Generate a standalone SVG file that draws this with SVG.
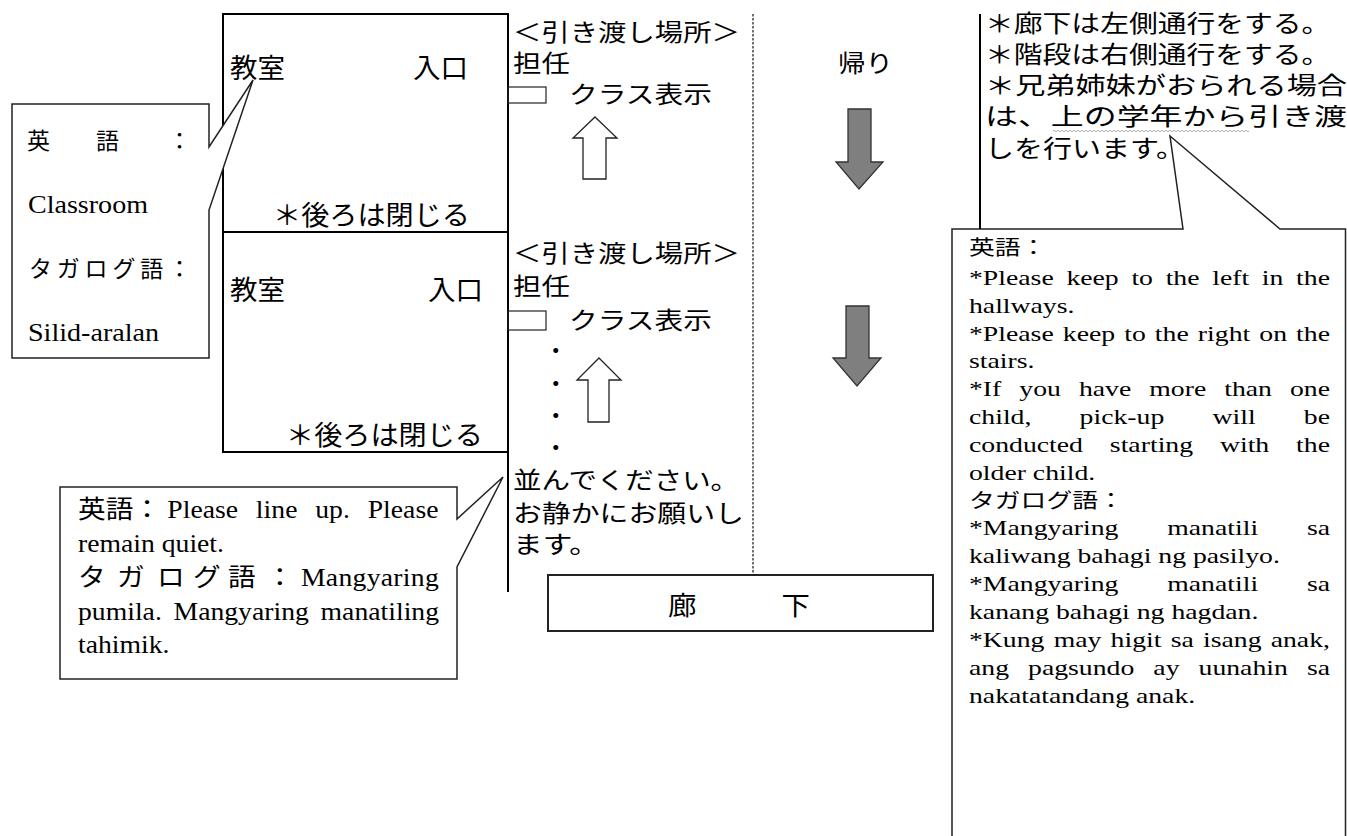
<svg xmlns="http://www.w3.org/2000/svg" width="1347" height="836" viewBox="0 0 1347 836">
<style>
.g{font-family:"Noto Sans CJK JP",sans-serif;fill:#000}
.s{font-family:"Liberation Serif","Noto Sans CJK JP",serif;fill:#000}
.box{fill:none;stroke:#000;stroke-width:2}
.call{fill:#fff;stroke:#222;stroke-width:1.5;stroke-linejoin:miter}
.up{fill:#fff;stroke:#222;stroke-width:1.3}
.down{fill:#7f7f7f;stroke:#333;stroke-width:1.3}
</style>
<rect width="1347" height="836" fill="#fff"/>

<g id="classroom1">
<path class="box" d="M223,14 H508 V232 H223 Z"/>
<text class="g" x="230" y="78" font-size="27" textLength="55" lengthAdjust="spacingAndGlyphs">教室</text>
<text class="g" x="413" y="78" font-size="27" textLength="55" lengthAdjust="spacingAndGlyphs">入口</text>
<text class="g" x="273" y="225" font-size="27" textLength="197" lengthAdjust="spacingAndGlyphs">＊後ろは閉じる</text>
</g>

<g id="classroom2">
<path class="box" d="M223,232 H508 V452 H223 Z"/>
<path class="box" d="M508,452 V592"/>
<text class="g" x="230" y="300" font-size="27" textLength="55" lengthAdjust="spacingAndGlyphs">教室</text>
<text class="g" x="428" y="300" font-size="27" textLength="55" lengthAdjust="spacingAndGlyphs">入口</text>
<text class="g" x="286" y="445" font-size="27" textLength="197" lengthAdjust="spacingAndGlyphs">＊後ろは閉じる</text>
</g>

<g id="callout-classroom">
<path class="call" stroke="#000" d="M12,104 H209 V147 L253,80 L209,210 V358 H12 Z"/>
<text class="s" y="148.5" font-size="23"><tspan x="27">英</tspan><tspan x="96">語</tspan><tspan x="168">：</tspan></text>
<text class="s" x="28" y="213" font-size="25" textLength="120" lengthAdjust="spacingAndGlyphs">Classroom</text>
<text class="s" x="29" y="276.5" font-size="23" textLength="162" lengthAdjust="spacing">タガログ語：</text>
<text class="s" x="28" y="341" font-size="26" textLength="131" lengthAdjust="spacingAndGlyphs">Silid-aralan</text>
</g>

<g id="handover1">
<rect x="508" y="87" width="38" height="16" fill="none" stroke="#222" stroke-width="1.2"/>
<text class="g" x="513" y="41" font-size="23.5" textLength="227" lengthAdjust="spacingAndGlyphs">＜引き渡し場所＞</text>
<text class="g" x="513" y="71.5" font-size="23.5" textLength="57" lengthAdjust="spacingAndGlyphs">担任</text>
<text class="g" x="569" y="103" font-size="23.5" textLength="143" lengthAdjust="spacingAndGlyphs">クラス表示</text>
</g>

<g id="handover2">
<rect x="508" y="311" width="38" height="19" fill="none" stroke="#222" stroke-width="1.2"/>
<text class="g" x="513" y="262" font-size="23.5" textLength="227" lengthAdjust="spacingAndGlyphs">＜引き渡し場所＞</text>
<text class="g" x="513" y="294.5" font-size="23.5" textLength="57" lengthAdjust="spacingAndGlyphs">担任</text>
<text class="g" x="569" y="328.5" font-size="23.5" textLength="143" lengthAdjust="spacingAndGlyphs">クラス表示</text>
<text class="g" x="544" y="359" font-size="23.5">・</text>
<text class="g" x="544" y="392" font-size="23.5">・</text>
<text class="g" x="544" y="424" font-size="23.5">・</text>
<text class="g" x="544" y="456" font-size="23.5">・</text>
<text class="g" x="513" y="489" font-size="23.5" textLength="226" lengthAdjust="spacingAndGlyphs">並んでください。</text>
<text class="g" x="513" y="521.5" font-size="23.5" textLength="231" lengthAdjust="spacingAndGlyphs">お静かにお願いし</text>
<text class="g" x="513" y="553" font-size="23.5" textLength="86" lengthAdjust="spacingAndGlyphs">ます。</text>
</g>

<g id="callout-lineup">
<path class="call" d="M60,487 H457 V519 L503,477 L457,567 V679 H60 Z"/>
<g transform="translate(78 0) scale(1.13 1)" class="s" font-size="24.5">
<text x="0" y="518">英語：</text>
<text x="79" y="518" word-spacing="9.6" textLength="240" lengthAdjust="spacing">Please line up. Please</text>
<text x="0" y="552">remain quiet.</text>
<text y="586" x="0 34.5 69.9 101.8 132.7 166.4">タガログ語：</text>
<text x="197.3" y="586" textLength="122" lengthAdjust="spacing">Mangyaring</text>
<text x="0" y="620" word-spacing="4.2" textLength="319.5" lengthAdjust="spacing">pumila. Mangyaring manatiling</text>
<text x="0" y="653">tahimik.</text>
</g>
</g>

<g id="divider">
<path d="M753,14 V575" fill="none" stroke="#111" stroke-width="1.2" stroke-dasharray="2.5 1.5"/>
</g>

<g id="return-label">
<text class="g" x="838" y="71.5" font-size="23.5" textLength="55" lengthAdjust="spacingAndGlyphs">帰り</text>
</g>

<g id="hallway">
<rect x="548" y="575" width="385" height="56" fill="#fff" stroke="#222" stroke-width="2"/>
<text class="g" x="668" y="615" font-size="26.5" textLength="142" lengthAdjust="spacingAndGlyphs">廊　　　下</text>
</g>

<g id="callout-rules">
<path class="call" d="M952,840 V229 H1183 L1170,136 L1280,229 H1345.5 V840"/>
<g transform="translate(969 0) scale(1.26 1)" class="s" font-size="22">
<text x="0" y="255.5" font-size="20.5">英語：</text>
<text x="0" y="284.9" word-spacing="4.56" textLength="286.5" lengthAdjust="spacing">*Please keep to the left in the</text>
<text x="0" y="312.7">hallways.</text>
<text x="0" y="340.6" word-spacing="1.7" textLength="286.5" lengthAdjust="spacing">*Please keep to the right on the</text>
<text x="0" y="368.4">stairs.</text>
<text x="0" y="396.3" word-spacing="8.8" textLength="286.5" lengthAdjust="spacing">*If you have more than one</text>
<text x="0" y="424.1" word-spacing="32.7" textLength="286.5" lengthAdjust="spacing">child, pick-up will be</text>
<text x="0" y="452" word-spacing="15.8" textLength="286.5" lengthAdjust="spacing">conducted starting with the</text>
<text x="0" y="479.8">older child.</text>
<text x="0" y="508" font-size="20.5">タガログ語：</text>
<text x="0" y="535.5" word-spacing="33.2" textLength="286.5" lengthAdjust="spacing">*Mangyaring manatili sa</text>
<text x="0" y="563.4">kaliwang bahagi ng pasilyo.</text>
<text x="0" y="591.2" word-spacing="33.2" textLength="286.5" lengthAdjust="spacing">*Mangyaring manatili sa</text>
<text x="0" y="619.1">kanang bahagi ng hagdan.</text>
<text x="0" y="646.9" word-spacing="1.8" textLength="286.5" lengthAdjust="spacing">*Kung may higit sa isang anak,</text>
<text x="0" y="674.8" word-spacing="9.6" textLength="286.5" lengthAdjust="spacing">ang pagsundo ay uunahin sa</text>
<text x="0" y="702.6">nakatatandang anak.</text>
</g>
</g>

<g id="rules">
<path d="M980,14 V229" fill="none" stroke="#000" stroke-width="2"/>
<text class="g" x="985" y="31.5" font-size="24" textLength="345.4" lengthAdjust="spacingAndGlyphs">＊廊下は左側通行をする。</text>
<text class="g" x="985" y="62.5" font-size="24" textLength="345.4" lengthAdjust="spacingAndGlyphs">＊階段は右側通行をする。</text>
<text class="g" x="985" y="94" font-size="24" textLength="362" lengthAdjust="spacingAndGlyphs">＊兄弟姉妹がおられる場合</text>
<text class="g" x="985" y="125" font-size="24" textLength="362" lengthAdjust="spacingAndGlyphs">は、上の学年から引き渡</text>
<text class="g" x="985" y="157" font-size="24" textLength="200" lengthAdjust="spacingAndGlyphs">しを行います。</text>
<path d="M1053,131 q1,-1.5 2,0 t2,0 t2,0 t2,0 t2,0 t2,0 t2,0 t2,0 t2,0 t2,0 t2,0 t2,0 t2,0 t2,0 t2,0 t2,0 t2,0 t2,0 t2,0 t2,0 t2,0 t2,0 t2,0 t2,0 t2,0 t2,0 t2,0 t2,0 t2,0 t2,0 t2,0 t2,0 t2,0 t2,0 t2,0 t2,0 t2,0 t2,0 t2,0 t2,0 t2,0 t2,0 t2,0 t2,0 t2,0 t2,0 t2,0 t2,0 t2,0 t2,0 t2,0 t2,0 t2,0 t2,0 t2,0 t2,0 t2,0 t2,0 t2,0 t2,0 t2,0 t2,0 t2,0 t2,0 t2,0 t2,0 t2,0 t2,0 t2,0 t2,0 t2,0 t2,0 t2,0 t2,0 t2,0 t2,0 t2,0 t2,0 t2,0 t2,0 t2,0 t2,0 t2,0 t2,0 t2,0 t2,0 t2,0 t2,0 t2,0 t2,0 t2,0 t2,0 t2,0 t2,0 t2,0 t2,0 t2,0 t2,0" fill="none" stroke="#999" stroke-width="0.8"/>
</g>

<g id="connectors">
<path class="up" d="M595,117 L617,138 H606 V179 H583 V138 H573 Z"/>
<path class="up" d="M599,358 L621,380 H609 V422 H588 V380 H577 Z"/>
<path class="down" d="M848,109 H871 V162 H883 L859,189 L836,162 H848 Z"/>
<path class="down" d="M846,306 H869 V358 H881 L857,386 L833,358 H846 Z"/>
</g>
</svg>
